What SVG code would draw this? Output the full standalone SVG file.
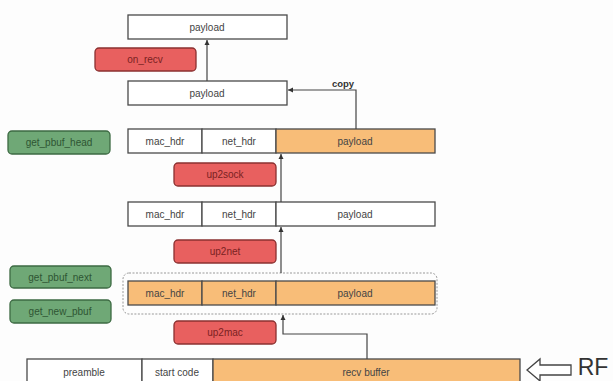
<svg xmlns="http://www.w3.org/2000/svg" width="613" height="381" viewBox="0 0 613 381">
<style>
.cell{stroke:#4a4a4a;stroke-width:1.3}
.w{fill:#ffffff}
.o{fill:#f8bd78}
.red{fill:#e8605f;stroke:#8a3030;stroke-width:1.3}
.grn{fill:#6fa876;stroke:#3d6a43;stroke-width:1.3}
text{font-family:"Liberation Sans",Arial,sans-serif;font-size:10px;fill:#444;text-anchor:middle}
.lbl{fill:#7a2222}
.gl{fill:#2e5533}
.con{fill:none;stroke:#444;stroke-width:1.2}
</style>
<defs>
<marker id="ah" markerWidth="6" markerHeight="6" refX="5" refY="3" orient="auto" markerUnits="userSpaceOnUse">
<path d="M0,0.5 L5,3 L0,5.5 z" fill="#333"/>
</marker>
</defs>
<rect width="613" height="381" fill="#fdfdfd"/>

<g id="payload_top">
<rect class="cell w" x="128" y="15" width="159" height="24"/>
<text x="207" y="31">payload</text>
</g>
<g id="on_recv">
<rect class="red" x="95" y="48" width="101" height="23" rx="4"/>
<text class="lbl" x="145" y="63">on_recv</text>
</g>
<g id="payload_copy">
<rect class="cell w" x="128" y="81" width="159" height="24"/>
<text x="207" y="97">payload</text>
</g>

<g id="get_pbuf_head">
<rect class="grn" x="8" y="131" width="102" height="23" rx="4"/>
<text class="gl" x="59" y="146">get_pbuf_head</text>
</g>
<g id="row3">
<rect class="cell w" x="128" y="129" width="74" height="24"/>
<rect class="cell w" x="202" y="129" width="74" height="24"/>
<rect class="cell o" x="276" y="129" width="159" height="24"/>
<text x="165" y="145">mac_hdr</text>
<text x="239" y="145">net_hdr</text>
<text x="355" y="145">payload</text>
</g>
<g id="up2sock">
<rect class="red" x="174" y="163" width="102" height="23" rx="4"/>
<text class="lbl" x="225" y="178">up2sock</text>
</g>
<g id="row4">
<rect class="cell w" x="128" y="202" width="74" height="24"/>
<rect class="cell w" x="202" y="202" width="74" height="24"/>
<rect class="cell w" x="276" y="202" width="159" height="24"/>
<text x="165" y="218">mac_hdr</text>
<text x="239" y="218">net_hdr</text>
<text x="355" y="218">payload</text>
</g>
<g id="up2net">
<rect class="red" x="174" y="240" width="102" height="23" rx="4"/>
<text class="lbl" x="225" y="255">up2net</text>
</g>
<g id="get_pbuf_next">
<rect class="grn" x="10" y="266" width="101" height="22" rx="4"/>
<text class="gl" x="60" y="281">get_pbuf_next</text>
</g>
<g id="get_new_pbuf">
<rect class="grn" x="10" y="300" width="101" height="23" rx="4"/>
<text class="gl" x="60" y="315">get_new_pbuf</text>
</g>
<g id="row5">
<rect x="123" y="273" width="314" height="41" rx="6" fill="none" stroke="#999" stroke-width="1" stroke-dasharray="2,1.5"/>
<rect class="cell o" x="128" y="281" width="74" height="24"/>
<rect class="cell o" x="202" y="281" width="74" height="24"/>
<rect class="cell o" x="276" y="281" width="159" height="24"/>
<text x="165" y="297">mac_hdr</text>
<text x="239" y="297">net_hdr</text>
<text x="355" y="297">payload</text>
</g>
<g id="up2mac">
<rect class="red" x="174" y="321" width="102" height="23" rx="4"/>
<text class="lbl" x="225" y="336">up2mac</text>
</g>
<g id="frame">
<rect class="cell w" x="27" y="359" width="115" height="24"/>
<rect class="cell w" x="142" y="359" width="71" height="24"/>
<rect class="cell o" x="213" y="359" width="307" height="24"/>
<text x="84" y="376">preamble</text>
<text x="177" y="376">start code</text>
<text x="366" y="376">recv buffer</text>
</g>
<g id="rf">
<path d="M527,370 L540,359 L540,365 L571,365 L571,375 L540,375 L540,381 Z" fill="#fff" stroke="#444" stroke-width="1.3"/>
<text x="593" y="375" style="font-size:23px;fill:#333">RF</text>
</g>

<g id="connectors">
<path class="con" d="M207,81 L207,40" marker-end="url(#ah)"/>
<path class="con" d="M356,129 L356,90 L288,90" marker-end="url(#ah)"/>
<text x="343" y="87" style="font-size:9.5px;fill:#333;font-weight:bold">copy</text>
<path class="con" d="M281,202 L281,154" marker-end="url(#ah)"/>
<path class="con" d="M281,273 L281,227" marker-end="url(#ah)"/>
<path class="con" d="M367,359 L367,334 L283,334 L283,315" marker-end="url(#ah)"/>
</g>
</svg>
